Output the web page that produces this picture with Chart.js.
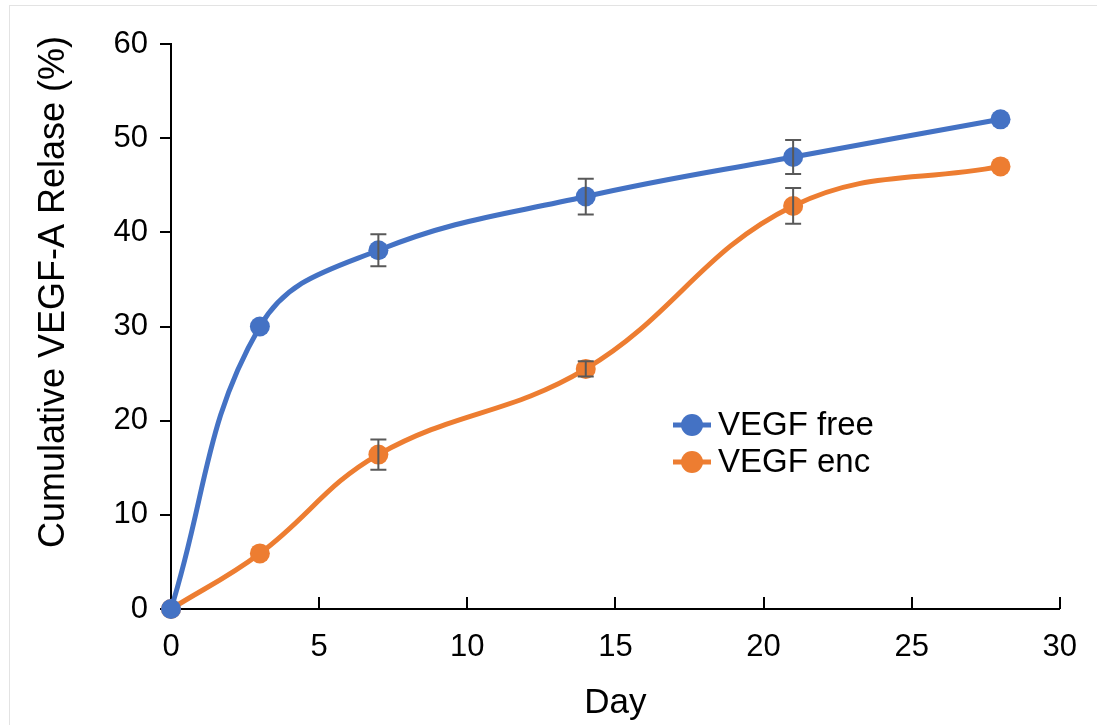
<!DOCTYPE html>
<html>
<head>
<meta charset="utf-8">
<script src="https://cdn.jsdelivr.net/npm/chart.js@4"></script>
<style>
  html, body { margin: 0; padding: 0; background: #fff; }
  #wrap { position: relative; width: 1097px; height: 725px; }
  #frame { position: absolute; left: 9px; top: 5px; width: 1100px; height: 730px; border: 1px solid #e3e3e3; box-sizing: border-box; }
</style>
</head>
<body>
<div id="wrap">
  <div id="frame"></div>
  <canvas id="chart" width="1097" height="725"></canvas>
</div>
<script>
"use strict";

const days = [0, 3, 7, 14, 21, 28];
const freeValues = [0, 30, 38.1, 43.8, 48, 52];
const freeErrors = [0, 0, 1.7, 1.9, 1.8, 0];
const encValues = [0, 5.9, 16.4, 25.5, 42.8, 47];
const encErrors = [0, 0, 1.6, 0.8, 1.9, 0];
const xTicks = [0, 5, 10, 15, 20, 25, 30];
const yTicks = [0, 10, 20, 30, 40, 50, 60];
const yTitle = "Cumulative VEGF-A Relase (%)";

const blue = "#4472C4";
const orange = "#ED7D31";
const fontFamily = "'Liberation Sans', Arial, sans-serif";

const toPoints = (xs, ys) => xs.map((x, i) => ({ x: x, y: ys[i] }));

// error bars, drawn over the lines
const errorBars = {
  id: "errorBars",
  afterDatasetsDraw(chart) {
    const ctx = chart.ctx;
    const xs = chart.scales.x;
    const ys = chart.scales.y;
    const sets = [freeErrors, encErrors];
    ctx.save();
    ctx.strokeStyle = "#595959";
    ctx.lineWidth = 2;
    sets.forEach((errs, d) => {
      const vals = d === 0 ? freeValues : encValues;
      days.forEach((day, i) => {
        if (!errs[i]) return;
        const px = xs.getPixelForValue(day);
        const top = ys.getPixelForValue(vals[i] + errs[i]);
        const bot = ys.getPixelForValue(vals[i] - errs[i]);
        ctx.beginPath();
        ctx.moveTo(px, top);
        ctx.lineTo(px, bot);
        ctx.moveTo(px - 8, top);
        ctx.lineTo(px + 8, top);
        ctx.moveTo(px - 8, bot);
        ctx.lineTo(px + 8, bot);
        ctx.stroke();
      });
    });
    ctx.restore();
  }
};

// x tick marks point up into the plot, y title sits a bit above centre
const axisExtras = {
  id: "axisExtras",
  afterDraw(chart) {
    const ctx = chart.ctx;
    const xs = chart.scales.x;
    const yb = chart.chartArea.bottom;
    ctx.save();
    ctx.strokeStyle = "#000";
    ctx.lineWidth = 2;
    xTicks.forEach(t => {
      if (t === 0) return;
      const px = Math.round(xs.getPixelForValue(t));
      ctx.beginPath();
      ctx.moveTo(px, yb);
      ctx.lineTo(px, yb - 12);
      ctx.stroke();
    });
    ctx.translate(64, 292);
    ctx.rotate(-Math.PI / 2);
    ctx.fillStyle = "#000";
    ctx.font = "36px " + fontFamily;
    ctx.textAlign = "center";
    ctx.textBaseline = "alphabetic";
    ctx.fillText(yTitle, 0, 0);
    ctx.restore();
  }
};

// legend inside the plot
const insideLegend = {
  id: "insideLegend",
  afterDraw(chart) {
    const ctx = chart.ctx;
    const items = [["VEGF free", blue], ["VEGF enc", orange]];
    ctx.save();
    items.forEach((it, i) => {
      const cy = 425 + i * 37;
      ctx.strokeStyle = it[1];
      ctx.fillStyle = it[1];
      ctx.lineWidth = 5;
      ctx.beginPath();
      ctx.moveTo(673, cy);
      ctx.lineTo(711, cy);
      ctx.stroke();
      ctx.beginPath();
      ctx.arc(692, cy, 11, 0, Math.PI * 2);
      ctx.fill();
      ctx.fillStyle = "#000";
      ctx.font = "33px " + fontFamily;
      ctx.textBaseline = "middle";
      ctx.fillText(it[0], 718, cy + 1);
    });
    ctx.restore();
  }
};

const ctx = document.getElementById("chart").getContext("2d");

const chart = new Chart(ctx, {
  type: "line",
  data: {
    datasets: [
      {
        label: "VEGF free",
        data: toPoints(days, freeValues),
        borderColor: blue,
        backgroundColor: blue,
        borderWidth: 5,
        pointRadius: 10,
        pointBorderWidth: 0,
        tension: 0.4
      },
      {
        label: "VEGF enc",
        data: toPoints(days, encValues),
        borderColor: orange,
        backgroundColor: orange,
        borderWidth: 5,
        pointRadius: 10,
        pointBorderWidth: 0,
        tension: 0.4
      }
    ]
  },
  options: {
    responsive: false,
    animation: false,
    clip: false,
    layout: { padding: { top: 44, right: 35, left: 0, bottom: 0 } },
    plugins: {
      legend: { display: false },
      tooltip: { enabled: false }
    },
    scales: {
      x: {
        type: "linear",
        min: 0,
        max: 30,
        afterBuildTicks: s => { s.ticks = xTicks.map(v => ({ value: v })); },
        afterFit: s => { s.height = 116; },
        border: { display: true, color: "#000", width: 2 },
        grid: { display: false, drawTicks: false },
        ticks: {
          color: "#000",
          padding: 20,
          font: { family: fontFamily, size: 31 }
        },
        title: {
          display: true,
          text: "Day",
          color: "#000",
          padding: { top: 10, bottom: 1 },
          font: { family: fontFamily, size: 35 }
        }
      },
      y: {
        min: 0,
        max: 60,
        afterBuildTicks: s => { s.ticks = yTicks.map(v => ({ value: v })); },
        afterFit: s => { s.width = 171; },
        border: { display: true, color: "#000", width: 2 },
        grid: {
          drawOnChartArea: false,
          drawTicks: true,
          tickLength: 11,
          color: "#000",
          lineWidth: 2
        },
        ticks: {
          color: "#000",
          padding: 12,
          font: { family: fontFamily, size: 31 }
        }
      }
    }
  },
  plugins: [errorBars, axisExtras, insideLegend]
});
</script>
</body>
</html>
